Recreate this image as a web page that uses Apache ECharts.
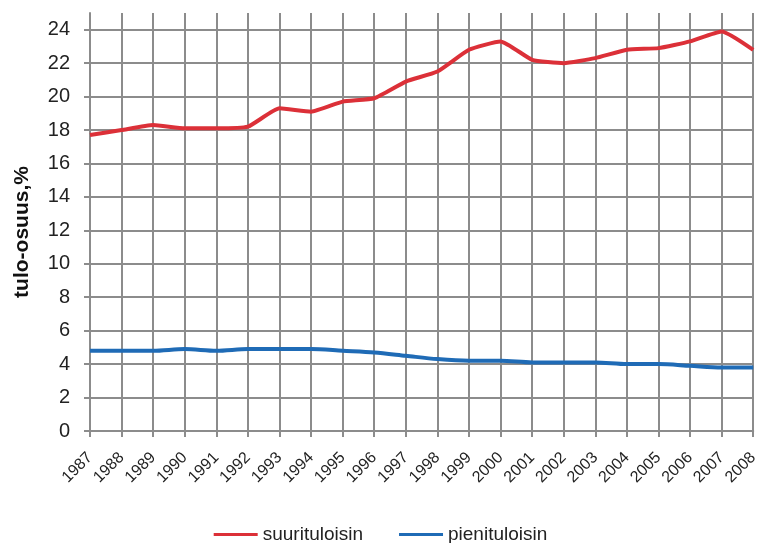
<!DOCTYPE html>
<html>
<head>
<meta charset="utf-8">
<script src="https://cdn.jsdelivr.net/npm/echarts@6/dist/echarts.min.js"></script>
<style>html,body{margin:0;padding:0;background:#fff;}#c{width:761px;height:543px;}</style>
</head>
<body>
<div id="c"></div>
<script>
const years = ['1987','1988','1989','1990','1991','1992','1993','1994','1995','1996','1997','1998','1999','2000','2001','2002','2003','2004','2005','2006','2007','2008'];
const suurituloisin = [17.7,18.0,18.3,18.1,18.1,18.2,19.3,19.1,19.7,19.9,20.9,21.5,22.8,23.3,22.2,22.0,22.3,22.8,22.9,23.3,23.9,22.8];
const pienituloisin = [4.8,4.8,4.8,4.9,4.8,4.9,4.9,4.9,4.8,4.7,4.5,4.3,4.2,4.2,4.1,4.1,4.1,4.0,4.0,3.9,3.8,3.8];
const seriesNames = ['suurituloisin','pienituloisin'];
const yTitle = 'tulo-osuus,%';

const chart = echarts.init(document.getElementById('c'), null, {renderer:'canvas'});
const gridColor = '#8c8c8c';
const font = 'Liberation Sans, Arial, sans-serif';
chart.setOption({
  animation: false,
  backgroundColor: '#fff',
  grid: {left: 90, right: 4, top: 13, bottom: 112, containLabel: false},
  legend: {
    bottom: -6, left: 'center',
    itemWidth: 44, itemHeight: 3, itemGap: 36,
    icon: 'rect',
    textStyle: {fontFamily: font, fontSize: 19, color: '#222'},
    data: seriesNames
  },
  xAxis: {
    type: 'category',
    data: years,
    boundaryGap: false,
    axisLine: {lineStyle: {color: gridColor, width: 2}},
    axisTick: {show: true, alignWithLabel: true, length: 6, lineStyle: {color: gridColor, width: 2}},
    splitLine: {show: true, lineStyle: {color: gridColor, width: 2}},
    axisLabel: {rotate: 45, fontFamily: font, fontSize: 16, color: '#222', margin: 24, interval: 0}
  },
  yAxis: {
    type: 'value',
    min: 0, max: 25, interval: 2,
    name: yTitle,
    nameLocation: 'middle',
    nameGap: 57,
    nameRotate: 90,
    nameTextStyle: {fontFamily: font, fontWeight: 'bold', fontSize: 21, color: '#111', padding: [0, 20, 0, 0]},
    axisLine: {show: true, lineStyle: {color: gridColor, width: 2}},
    axisTick: {show: true, length: 6, lineStyle: {color: gridColor, width: 2}},
    splitLine: {show: true, showMaxLine: false, lineStyle: {color: gridColor, width: 2}},
    axisLabel: {showMaxLabel: false, fontFamily: font, fontSize: 20, color: '#222', margin: 20}
  },
  series: [
    {name: seriesNames[0], type: 'line', data: suurituloisin, symbol: 'none', smooth: 0.15,
     lineStyle: {color: '#dc3038', width: 4}, itemStyle: {color: '#dc3038'}},
    {name: seriesNames[1], type: 'line', data: pienituloisin, symbol: 'none', smooth: 0.3,
     lineStyle: {color: '#1f6bb6', width: 4}, itemStyle: {color: '#1f6bb6'}}
  ]
});
</script>
</body>
</html>
